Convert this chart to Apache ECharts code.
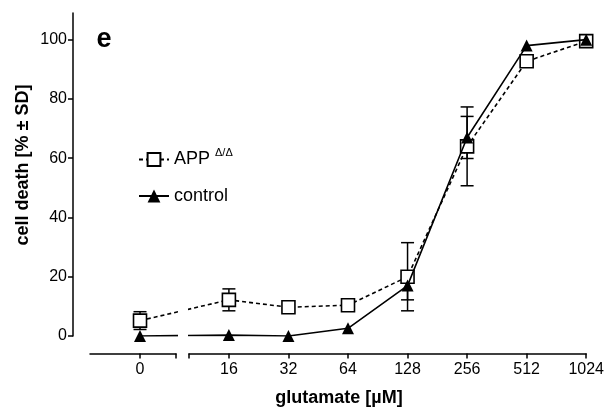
<!DOCTYPE html>
<html>
<head>
<meta charset="utf-8">
<script src="https://cdn.jsdelivr.net/npm/echarts@6/dist/echarts.min.js"></script>
<style>
  html, body { margin: 0; padding: 0; background: #fff; }
  #main { width: 607px; height: 408px; }
</style>
</head>
<body>
<div id="main"></div>
<script>
// glutamate concentrations (uM) and their tick labels
var conc = [0, 16, 32, 64, 128, 256, 512, 1024];
var xLabels = ['0', '16', '32', '64', '128', '256', '512', '1024'];
var yTicks = [0, 20, 40, 60, 80, 100];

// cell death, % (mean and SD)
var appMean = [5.2, 12.2, 9.7, 10.4, 20, 64, 92.7, 99.5];
var appSD = [3, 3.7, 1, 1, 11.5, 13.3, 1, 0];
var ctrlMean = [0, 0.3, 0, 2.6, 17, 67, 98, 100];
var ctrlSD = [0, 0, 0, 0, 4.8, 7.1, 0, 0];

var FONT = 'Liberation Sans, Arial, Helvetica, sans-serif';

// position on the log2 axis; "0" sits left of the break
var zeroPos = 2.5;
var xPos = conc.map(function (c) { return c === 0 ? zeroPos : Math.log2(c); });

function pairs(vals) {
    return vals.map(function (v, i) { return [xPos[i], v]; });
}
function bars(mean, sd) {
    var out = [];
    mean.forEach(function (m, i) {
        if (sd[i] > 0) out.push([xPos[i], m - sd[i], m + sd[i]]);
    });
    return out;
}
function labelOf(v) {
    for (var i = 0; i < xPos.length; i++) {
        if (Math.abs(xPos[i] - v) < 1e-6) return xLabels[i];
    }
    return '';
}

function renderBar(params, api) {
    var x = api.value(0);
    var top = api.coord([x, api.value(2)]);
    var bot = api.coord([x, api.value(1)]);
    var w = 6.5;
    var st = { stroke: '#000', lineWidth: 1.5, fill: null };
    return {
        type: 'group',
        children: [
            { type: 'line', shape: { x1: top[0], y1: top[1], x2: bot[0], y2: bot[1] }, style: st },
            { type: 'line', shape: { x1: top[0] - w, y1: top[1], x2: top[0] + w, y2: top[1] }, style: st },
            { type: 'line', shape: { x1: bot[0] - w, y1: bot[1], x2: bot[0] + w, y2: bot[1] }, style: st }
        ]
    };
}

var myChart = echarts.init(document.getElementById('main'));

var axMin = [1.662, 3.330];
var axMax = [3.103, 10];
var lineCommon = { color: '#000', width: 1.6 };

function xAxisFor(i, tickVals, labelVals) {
    return {
        type: 'value',
        gridIndex: i,
        min: axMin[i],
        max: axMax[i],
        position: 'bottom',
        offset: 17.5,
        splitLine: { show: false },
        axisLine: { show: true, onZero: false, lineStyle: { color: '#000', width: 1.5 } },
        axisTick: { show: true, length: 5, customValues: tickVals, lineStyle: { color: '#000', width: 1.5 } },
        axisLabel: {
            customValues: labelVals,
            formatter: labelOf,
            color: '#000',
            fontFamily: FONT,
            fontSize: 16,
            margin: 8
        }
    };
}

function yAxisFor(i, show) {
    return {
        type: 'value',
        gridIndex: i,
        min: 0,
        max: 109,
        show: show,
        offset: 17,
        splitLine: { show: false },
        axisLine: { show: true, onZero: false, lineStyle: { color: '#000', width: 1.5 } },
        axisTick: { show: true, length: 5, customValues: yTicks, lineStyle: { color: '#000', width: 1.5 } },
        axisLabel: {
            customValues: yTicks,
            color: '#000',
            fontFamily: FONT,
            fontSize: 16,
            margin: 6
        }
    };
}

var series = [];
[0, 1].forEach(function (g) {
    series.push({
        type: 'custom',
        xAxisIndex: g, yAxisIndex: g,
        clip: true,
        renderItem: renderBar,
        data: bars(appMean, appSD),
        z: 1,
        silent: true
    });
    series.push({
        type: 'custom',
        xAxisIndex: g, yAxisIndex: g,
        clip: true,
        renderItem: renderBar,
        data: bars(ctrlMean, ctrlSD),
        z: 1,
        silent: true
    });
    series.push({
        name: 'APP',
        type: 'line',
        xAxisIndex: g, yAxisIndex: g,
        clip: true,
        data: pairs(appMean),
        symbol: 'rect',
        symbolSize: 13,
        lineStyle: { color: '#000', width: 1.6, type: [4, 3] },
        itemStyle: { color: '#fff', borderColor: '#000', borderWidth: 1.6 },
        z: 3
    });
    series.push({
        name: 'control',
        type: 'line',
        xAxisIndex: g, yAxisIndex: g,
        clip: true,
        data: pairs(ctrlMean),
        symbol: 'triangle',
        symbolSize: 12,
        lineStyle: lineCommon,
        itemStyle: { color: '#000' },
        z: 4
    });
});

var option = {
    animation: false,
    backgroundColor: '#fff',
    textStyle: { fontFamily: FONT },
    grid: [
        { left: 90, width: 86, top: 13, height: 323 },
        { left: 189, width: 398, top: 13, height: 323 }
    ],
    xAxis: [
        xAxisFor(0, [zeroPos, axMax[0]], [zeroPos]),
        xAxisFor(1, [axMin[1]].concat(xPos.slice(1)), xPos.slice(1))
    ],
    yAxis: [yAxisFor(0, true), yAxisFor(1, false)],
    legend: [
        {
            data: ['APP'],
            left: 133, top: 142,
            itemWidth: 30, itemHeight: 16,
            formatter: function () { return '{a|APP }{s|Δ/Δ}'; },
            textStyle: {
                color: '#000',
                rich: {
                    a: { fontSize: 18, fontFamily: FONT, color: '#000' },
                    s: { fontSize: 11, fontFamily: FONT, color: '#000', padding: [0, 0, 14, 0] }
                }
            }
        },
        {
            data: ['control'],
            left: 133, top: 182,
            itemWidth: 30, itemHeight: 16,
            textStyle: { color: '#000', fontSize: 18, fontFamily: FONT }
        }
    ],
    graphic: [
        {
            type: 'text', x: 104, y: 40,
            style: { text: 'e', font: 'bold 27px ' + FONT, fill: '#000', align: 'center', verticalAlign: 'middle' }
        },
        {
            type: 'text', x: 23, y: 165, rotation: Math.PI / 2,
            style: { text: 'cell death [% ± SD]', font: 'bold 18px ' + FONT, fill: '#000', align: 'center', verticalAlign: 'middle' }
        },
        {
            type: 'text', x: 339, y: 398,
            style: { text: 'glutamate [µM]', font: 'bold 18px ' + FONT, fill: '#000', align: 'center', verticalAlign: 'middle' }
        }
    ],
    series: series
};

myChart.setOption(option);
</script>
</body>
</html>
